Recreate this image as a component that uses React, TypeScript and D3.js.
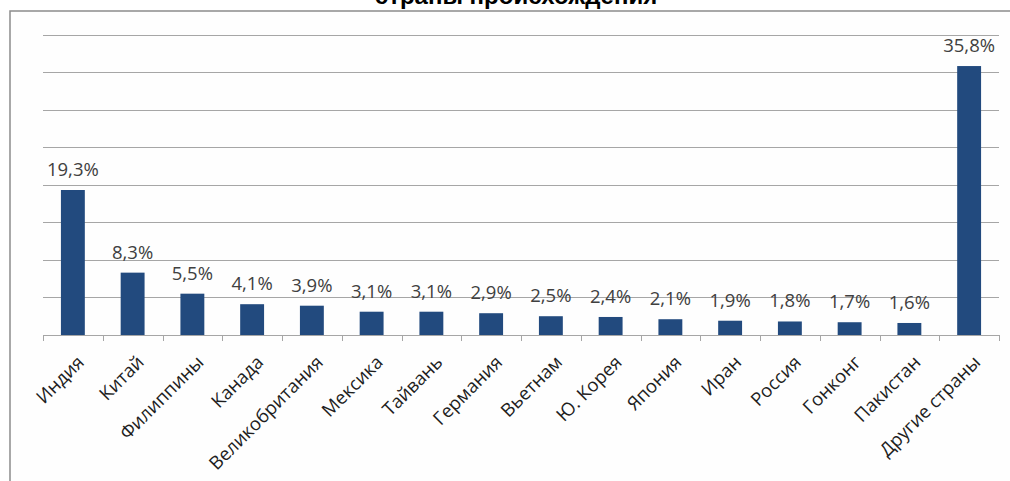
import React from "react";
import * as d3 from "d3";

const categories = [
  "Индия", "Китай", "Филиппины", "Канада", "Великобритания", "Мексика",
  "Тайвань", "Германия", "Вьетнам", "Ю. Корея", "Япония", "Иран",
  "Россия", "Гонконг", "Пакистан", "Другие страны",
];
const values = [19.3, 8.3, 5.5, 4.1, 3.9, 3.1, 3.1, 2.9, 2.5, 2.4, 2.1, 1.9, 1.8, 1.7, 1.6, 35.8];
const yTicks = [0, 5, 10, 15, 20, 25, 30, 35, 40];
const title = "страны происхождения";

const W = 1010;
const H = 481;
const left = 43;
const right = 999;
const top = 34.5;
const bottom = 335;

export default function App() {
  const x = d3.scaleBand<string>().domain(categories).range([left, right]).paddingInner(0.6).paddingOuter(0.3);
  const band = d3.scaleBand<string>().domain(categories).range([left, right]);
  const y = d3.scaleLinear().domain([0, 40]).range([bottom, top]);
  const fmt = (v: number) => v.toFixed(1).replace(".", ",") + "%";
  const font = "'Open Sans', 'DejaVu Sans', sans-serif";
  const boundaries = categories.map((c) => band(c) as number).concat([right]);

  return (
    <div style={{ position: "absolute", left: 0, top: 0 }}>
      <svg width={W} height={H} style={{ display: "block", background: "#ffffff" }}>
        <rect x={10} y={11} width={W + 10} height={H} fill="#fefefe" stroke="#8c8c8c" strokeWidth={1.5} />
        <text x={516} y={4} textAnchor="middle" fontFamily="Arial, 'Liberation Sans', sans-serif" fontWeight="bold" fontSize={24} fill="#000">
          {title}
        </text>
        {yTicks.slice(1).map((t) => (
          <line key={t} x1={left} x2={right} y1={Math.round(y(t)) + 0.5} y2={Math.round(y(t)) + 0.5} stroke="#a6a6a6" strokeWidth={1} />
        ))}
        {categories.map((c, i) => {
          const bx = x(c) as number;
          const by = y(values[i]);
          return (
            <g key={c}>
              <rect x={bx} y={by} width={x.bandwidth()} height={bottom - by} fill="#224a7e" />
              <text x={bx + x.bandwidth() / 2} y={by - 14} textAnchor="middle" fontFamily={font} fontSize={18.5} fill="#404040">
                {fmt(values[i])}
              </text>
            </g>
          );
        })}
        <line x1={left} x2={right} y1={bottom + 0.5} y2={bottom + 0.5} stroke="#a6a6a6" strokeWidth={1} />
        {boundaries.map((bx, i) => (
          <line key={i} x1={Math.round(bx) + 0.5} x2={Math.round(bx) + 0.5} y1={bottom} y2={bottom + 6} stroke="#a6a6a6" strokeWidth={1} />
        ))}
        {categories.map((c) => {
          const cx = (band(c) as number) + band.bandwidth() / 2;
          return (
            <text key={c} transform={`translate(${cx + 3},${354}) rotate(-45)`} textAnchor="end" dy="0.72em" fontFamily={font} fontSize={18.5} fill="#1e1e1e">
              {c}
            </text>
          );
        })}
      </svg>
    </div>
  );
}
